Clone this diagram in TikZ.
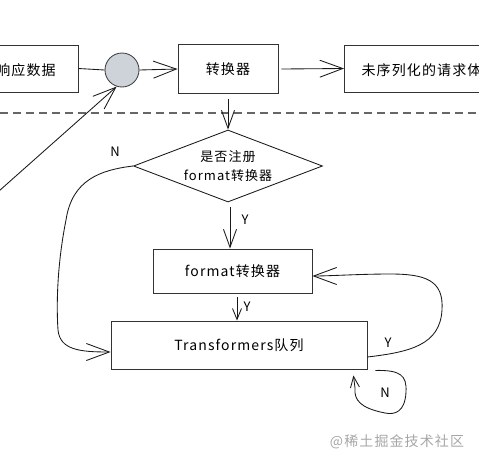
\documentclass[tikz,border=0pt]{standalone}
\usepackage{fontspec}
\setmainfont[LetterSpace=8]{Noto Sans CJK SC}
\usetikzlibrary{arrows.meta,shapes.geometric}
\definecolor{joingray}{HTML}{CED3DA}

\begin{document}
\begin{tikzpicture}[x=1pt, y=-1pt,
	box/.style={draw=black!80, line width=0.3mm, inner sep=0pt, font=\fontsize{14}{19}\selectfont},
	link/.style={line width=0.3mm, color=black!90},
	bigtip/.style={-{Straight Barb[length=23pt, width=17pt]}},
	midtip/.style={-{Straight Barb[length=18pt, width=13pt]}},
	smalltip/.style={-{Straight Barb[length=11pt, width=9pt]}},
	tag/.style={font=\fontsize{13}{15}\selectfont}]
			%%%%% START %%%%%
			
			\useasboundingbox (0, 0) rectangle (479, 464);
			\clip (0, 0) rectangle (479, 464);
			
			\node[box, minimum width=140pt, minimum height=47pt] (data) at (8, 68.5) {};
			\node[font=\fontsize{14}{19}\selectfont] (datatxt) at (26, 70) {响应数据};
			\node[circle, draw=black!75, fill=joingray, line width=0.3mm, minimum size=34pt, inner sep=0pt] (join) at (122, 70) {};
			\node[box, minimum width=100pt, minimum height=49pt] (conv) at (228, 69) {转换器};
			\node[box, minimum width=180pt, minimum height=47pt, anchor=west] (body) at (344, 68.5) {};
			\node[font=\fontsize{14}{19}\selectfont, anchor=west] (bodytxt) at (358, 70) {未序列化的请求体};
			
			\draw[line width=0.4mm, color=black!60, dash pattern=on 8pt off 5pt] (0, 113) -- (479, 113);
			
			\node[diamond, draw=black!90, line width=0.3mm, shape aspect=2.6, minimum width=189pt, minimum height=72pt, inner sep=0pt, align=center, font=\fontsize{13}{19}\selectfont] (reg) at (228, 166) {是否注册\\format转换器};
			\node[box, minimum width=159pt, minimum height=44pt] (fmt) at (232.5, 271) {format转换器};
			\node[box, minimum width=256pt, minimum height=48pt] (queue) at (239, 345) {Transformers队列};
			
			\coordinate (src) at (-10, 199);
			
			\draw[link] (data.east) -- (join.west);
			\draw[link, bigtip] (join.east) -- (conv.west);
			\draw[link, bigtip] ([xshift=3pt]conv.east) -- (body.west);
			\draw[link, bigtip] (src) -- (join.-108);
			\draw[link, midtip] ([yshift=-5pt]conv.south) -- (reg.north);
			
			\draw[link, midtip] ([xshift=2pt, yshift=-5pt]reg.south) -- ([xshift=-2.5pt]fmt.north);
			\node[tag] (ytop) at (245, 220) {Y};
			\draw[link, smalltip] ([xshift=4.5pt, yshift=-4pt]fmt.south) -- ([xshift=-2pt]queue.north);
			\node[tag] (ymid) at (247, 307) {Y};
			
			\draw[link, bigtip] (reg.west) .. controls (100, 170) and (72, 180) .. (66, 220) .. controls (58, 260) and (56, 300) .. (58, 330) .. controls (60, 350) and (80, 352) .. ([yshift=-7pt]queue.west);
			\node[tag] (nleft) at (115, 152) {N};
			
			\draw[link, bigtip] ([yshift=-12pt]queue.east) .. controls (410, 352) and (440, 345) .. (442, 310) .. controls (444, 280) and (425, 274) .. (390, 274) .. controls (360, 274) and (330, 276) .. ([yshift=-5pt]fmt.east);
			\node[tag] (yright) at (388, 343) {Y};
			
			\draw[link, smalltip] ([xshift=8pt, yshift=-1pt]queue.south east) .. controls (400, 370) and (407, 375) .. (406, 392) .. controls (405, 412) and (395, 415) .. (385, 413) .. controls (360, 408) and (354, 400) .. (355, 388) -- ([xshift=-14pt, yshift=-6pt]queue.south east);
			\node[tag] (nloop) at (385, 393) {N};
			
			\node[font=\fontsize{14}{17}\selectfont, color=black!35] (mark) at (397, 442) {@稀土掘金技术社区};
			
			%%%%% END %%%%%
		\end{tikzpicture}
\end{document}
